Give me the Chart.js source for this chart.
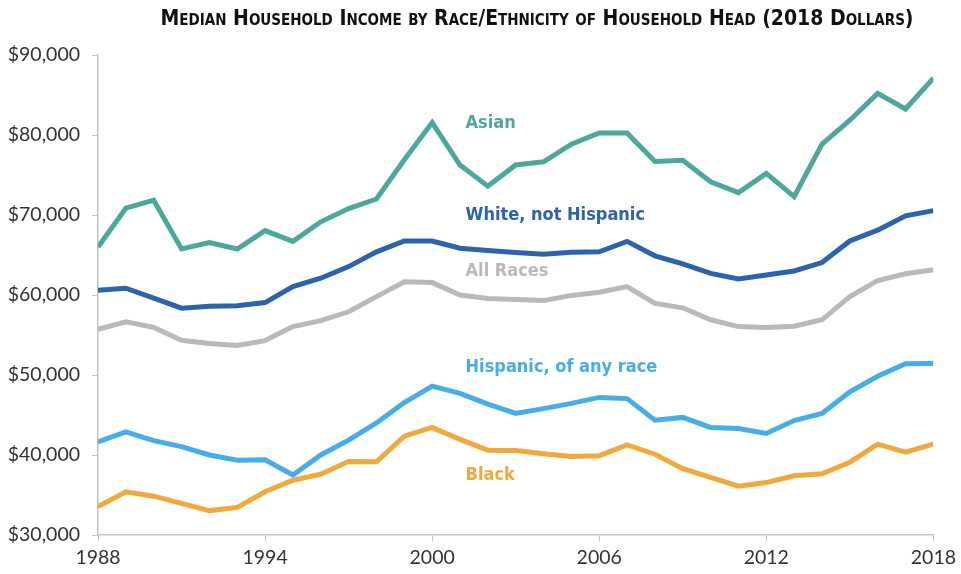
<!DOCTYPE html>
<html>
<head>
<meta charset="utf-8">
<script src="https://cdn.jsdelivr.net/npm/chart.js@4/dist/chart.umd.min.js"></script>
<style>
  html, body { margin: 0; padding: 0; background: #fff; }
  #wrap { width: 961px; height: 574px; }
</style>
</head>
<body>
<div id="wrap"><canvas id="incomeChart" width="961" height="574"></canvas></div>
<script>
const years = [1988, 1989, 1990, 1991, 1992, 1993, 1994, 1995, 1996, 1997,
  1998, 1999, 2000, 2001, 2002, 2003, 2004, 2005, 2006, 2007,
  2008, 2009, 2010, 2011, 2012, 2013, 2014, 2015, 2016, 2017, 2018];

const asian = [66000, 70850, 71850, 65750, 66550, 65750, 68050, 66700, 69150, 70800,
  72000, 76900, 81550, 76250, 73600, 76250, 76650, 78850, 80250, 80250,
  76700, 76850, 74150, 72800, 75200, 72300, 78850, 81850, 85200, 83250, 87100];
const white = [60600, 60850, 59600, 58350, 58600, 58650, 59050, 61050, 62100, 63550,
  65400, 66750, 66750, 65850, 65550, 65300, 65100, 65350, 65400, 66700,
  64900, 63900, 62700, 62000, 62500, 63000, 64050, 66750, 68100, 69900, 70550];
const allRaces = [55700, 56650, 55950, 54350, 53950, 53700, 54300, 56050, 56800, 57900,
  59800, 61650, 61550, 60000, 59550, 59450, 59300, 59950, 60350, 61050,
  58950, 58400, 56900, 56050, 55950, 56100, 56900, 59800, 61800, 62650, 63150];
const hispanic = [41650, 42900, 41800, 41050, 40000, 39350, 39400, 37500, 40000, 41850,
  44000, 46550, 48600, 47700, 46350, 45200, 45800, 46450, 47200, 47050,
  44350, 44700, 43450, 43300, 42700, 44300, 45200, 47900, 49850, 51400, 51450];
const black = [33550, 35400, 34850, 33950, 33050, 33450, 35400, 36850, 37600, 39200,
  39150, 42350, 43450, 41950, 40600, 40550, 40150, 39800, 39900, 41250,
  40100, 38300, 37200, 36100, 36550, 37400, 37650, 39100, 41350, 40350, 41350];

const seriesNames = ['Asian', 'White, not Hispanic', 'All Races', 'Hispanic, of any race', 'Black'];
const xTicks = [1988, 1994, 2000, 2006, 2012, 2018];
const yTicks = [30000, 40000, 50000, 60000, 70000, 80000, 90000];

const colors = ['#4DA89B', '#2B63AD', '#B9B9B9', '#46ADE8', '#F0A93B'];
const titleText = 'Median Household Income by Race/Ethnicity of Household Head (2018 Dollars)';
const condensed = '"Liberation Sans Narrow", "DejaVu Sans Condensed", "Roboto Condensed", sans-serif';
const tickFont = { family: 'Lato, "Open Sans", sans-serif', size: 19.5 };

// where the in-chart series names sit (in data units)
const labelSpots = [
  { year: 2001.2, value: 81400 },
  { year: 2001.2, value: 70000 },
  { year: 2001.2, value: 62900 },
  { year: 2001.2, value: 51000 },
  { year: 2001.2, value: 37500 }
];

function toPoints(values) {
  return values.map((v, i) => ({ x: years[i], y: v }));
}

const allSeries = [asian, white, allRaces, hispanic, black];

const datasets = allSeries.map((values, i) => ({
  label: seriesNames[i],
  data: toPoints(values),
  borderColor: colors[i],
  backgroundColor: colors[i],
  borderWidth: 5,
  pointRadius: 0,
  tension: 0,
  fill: false
}));

const seriesLabelPlugin = {
  id: 'seriesLabels',
  afterDatasetsDraw(chart) {
    const ctx = chart.ctx;
    const xs = chart.scales.x;
    const ys = chart.scales.y;
    ctx.save();
    ctx.font = 'bold 18px ' + condensed;
    ctx.textAlign = 'left';
    ctx.textBaseline = 'middle';
    labelSpots.forEach((spot, i) => {
      ctx.fillStyle = colors[i];
      ctx.fillText(seriesNames[i], xs.getPixelForValue(spot.year), ys.getPixelForValue(spot.value));
    });
    ctx.restore();
  }
};

const titlePlugin = {
  id: 'smallCapsTitle',
  afterDraw(chart) {
    const ctx = chart.ctx;
    ctx.save();
    ctx.font = 'small-caps bold 21px ' + condensed;
    ctx.fillStyle = '#111';
    ctx.textAlign = 'center';
    ctx.textBaseline = 'middle';
    ctx.fillText(titleText, 537, 20);
    ctx.restore();
  }
};

const ctx = document.getElementById('incomeChart').getContext('2d');

new Chart(ctx, {
  type: 'line',
  data: { datasets: datasets },
  options: {
    responsive: false,
    animation: false,
    layout: { padding: { top: 55, right: 23, left: 0, bottom: 0 } },
    plugins: {
      legend: { display: false },
      tooltip: { enabled: false },
      title: { display: false }
    },
    scales: {
      x: {
        type: 'linear',
        min: 1988,
        max: 2018,
        afterBuildTicks: scale => { scale.ticks = xTicks.map(v => ({ value: v })); },
        afterFit: scale => { scale.height = 39; },
        grid: { drawOnChartArea: false, drawTicks: true, tickLength: 6, color: '#c4c4c4' },
        border: { color: '#c4c4c4', width: 1.5 },
        ticks: {
          color: '#333',
          padding: 5,
          maxRotation: 0,
          font: tickFont,
          callback: value => String(value)
        }
      },
      y: {
        min: 30000,
        max: 90000,
        afterBuildTicks: scale => { scale.ticks = yTicks.map(v => ({ value: v })); },
        afterFit: scale => { scale.width = 98; },
        grid: { drawOnChartArea: false, drawTicks: true, tickLength: 6, color: '#c4c4c4' },
        border: { color: '#c4c4c4', width: 1.5 },
        ticks: {
          color: '#333',
          padding: 12,
          font: tickFont,
          callback: value => '$' + value.toLocaleString('en-US')
        }
      }
    }
  },
  plugins: [seriesLabelPlugin, titlePlugin]
});
</script>
</body>
</html>
